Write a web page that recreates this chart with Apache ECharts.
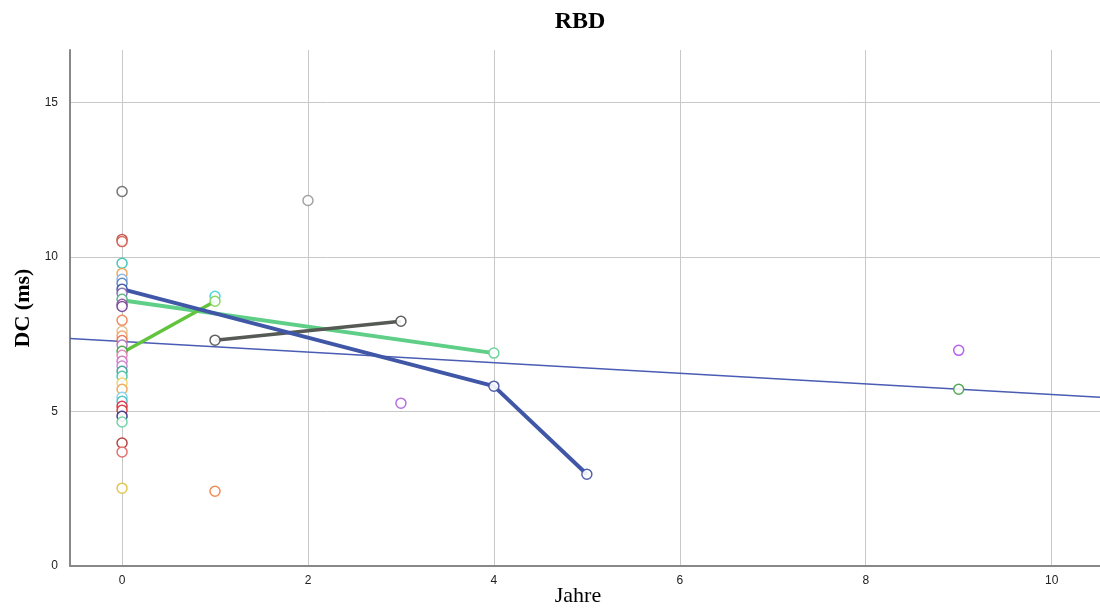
<!DOCTYPE html>
<html>
<head>
<meta charset="utf-8">
<title>RBD</title>
<script src="https://cdn.jsdelivr.net/npm/echarts@6/dist/echarts.min.js"></script>
<style>
	html, body { margin: 0; padding: 0; background: #fff; }
	#chart_1 { width: 1100px; height: 612px; }
</style>
</head>
<body>
<div id="chart_1"></div>
<script>
// Einzelpunkte (Jahre, DC in ms)
var pointX = [0, 0, 0, 0, 0, 0, 0, 0, 0, 0, 0, 0, 0, 0, 0, 0, 0, 0, 0, 0, 0, 0, 0, 0, 0, 0, 0, 0, 0, 0, 0, 0, 0, 0,
	1, 1, 1, 1, 2, 3, 3, 4, 4, 5, 9, 9];
var pointY = [12.12, 10.57, 10.5, 9.8, 9.47, 9.28, 9.15, 8.96, 8.83, 8.63, 8.47, 8.4, 7.95, 7.6, 7.44, 7.3, 7.15,
	6.95, 6.82, 6.63, 6.47, 6.3, 6.14, 5.92, 5.72, 5.46, 5.33, 5.17, 5.04, 4.85, 4.66, 3.98, 3.69, 2.52,
	2.42, 8.73, 8.57, 7.31, 11.83, 5.27, 7.92, 6.89, 5.82, 2.97, 6.98, 5.72];
var pointColors = ['#666666', '#c0504d', '#d05a4a', '#33c0b0', '#f0a050', '#80b0e0', '#5080c0', '#3050a0',
	'#8060b0', '#50b080', '#9050a0', '#704090', '#f08050', '#e0c090', '#f0a060', '#e07050', '#a070c0',
	'#40a040', '#e080b0', '#d070c0', '#c080d0', '#30a090', '#40c0a0', '#f0d060', '#f0a050', '#80d0f0',
	'#40c0c0', '#e02040', '#d03030', '#303080', '#60d0a0', '#b03030', '#e06060', '#e0c040',
	'#f08040', '#40d0e0', '#80d050', '#505050', '#999999', '#b060e0', '#505050', '#60d090', '#4050a0',
	'#4050a0', '#b050f0', '#40a040'];

// Verlaeufe einzelner Patienten
var blueX = [0, 4, 5];
var blueY = [8.96, 5.82, 2.97];
var greenX = [0, 4];
var greenY = [8.6, 6.89];
var limeX = [0, 1];
var limeY = [6.9, 8.57];
var grayX = [1, 3];
var grayY = [7.31, 7.92];

// Regressionsgerade
var fitIntercept = 7.27;
var fitSlope = -0.172;

// Achsen
var xMin = -0.56, xMax = 10.52;
var yMin = 0, yMax = 16.7;
var xTicks = [0, 2, 4, 6, 8, 10];
var yTicks = [5, 10, 15];

function pairs(xs, ys) {
	var t = [];
	for (var i = 0; i < xs.length; i++) {
		t.push([xs[i], ys[i]]);
	}
	return t;
}

function makeChart() {
	var myChart = echarts.init(document.getElementById('chart_1'));
	var serif = '"Liberation Serif", "DejaVu Serif", serif';
	var sans = '"Liberation Sans", Arial, sans-serif';

	var points = [];
	for (var i = 0; i < pointX.length; i++) {
		points.push({
			value: [pointX[i], pointY[i]],
			itemStyle: { borderColor: pointColors[i], color: '#fff' }
		});
	}

	// Gitterlinien nur an den beschrifteten Ticks
	var gridLines = [];
	xTicks.forEach(function (v) { gridLines.push({ xAxis: v }); });
	yTicks.forEach(function (v) { gridLines.push({ yAxis: v }); });

	function pathSeries(xs, ys, color, width) {
		return {
			type: 'line',
			data: pairs(xs, ys),
			showSymbol: false,
			silent: true,
			z: 2,
			lineStyle: { color: color, width: width }
		};
	}

	var option = {
		backgroundColor: '#fff',
		animation: false,
		title: {
			text: 'RBD',
			left: 575,
			textAlign: 'center',
			top: 5,
			textStyle: { fontFamily: serif, fontSize: 24, fontWeight: 'bold', color: '#000' }
		},
		grid: { left: 70, right: 0, top: 50, bottom: 46, outerBoundsMode: 'none', containLabel: false },
		xAxis: {
			type: 'value',
			min: xMin,
			max: xMax,
			splitNumber: 5,
			name: 'Jahre',
			nameLocation: 'middle',
			nameGap: 19,
			nameMoveOverlap: false,
			nameTextStyle: { fontFamily: serif, fontSize: 22, color: '#000', padding: [0, 14, 0, 0] },
			axisLine: { show: true, onZero: false, lineStyle: { color: '#888', width: 2 } },
			axisTick: { show: false },
			axisLabel: {
				showMinLabel: false,
				showMaxLabel: false,
				fontFamily: sans, fontSize: 12, color: '#222', margin: 9
			},
			splitLine: { show: false }
		},
		yAxis: {
			type: 'value',
			min: yMin,
			max: yMax,
			interval: 5,
			name: 'DC (ms)',
			nameLocation: 'middle',
			nameGap: 36,
			nameMoveOverlap: false,
			nameTextStyle: { fontFamily: serif, fontSize: 22, fontWeight: 'bold', color: '#000' },
			axisLine: { show: true, onZero: false, lineStyle: { color: '#888', width: 2 } },
			axisTick: { show: false },
			axisLabel: { showMaxLabel: false, fontFamily: sans, fontSize: 12, color: '#222', margin: 12 },
			splitLine: { show: false }
		},
		series: [
			{
				type: 'line',
				data: [[xMin, fitIntercept + fitSlope * xMin], [xMax, fitIntercept + fitSlope * xMax]],
				showSymbol: false,
				silent: true,
				z: 1,
				lineStyle: { color: '#4a5cb4', width: 1.5 },
				markLine: {
					silent: true,
					symbol: 'none',
					label: { show: false },
					lineStyle: { color: '#c8c8c8', width: 1, type: 'solid' },
					z: 0,
					data: gridLines
				}
			},
			pathSeries(greenX, greenY, '#5fcf87', 4),
			pathSeries(limeX, limeY, '#62c43c', 3.5),
			pathSeries(grayX, grayY, '#555a55', 3.5),
			pathSeries(blueX, blueY, '#4057a8', 4),
			{
				type: 'scatter',
				symbol: 'circle',
				symbolSize: 10,
				z: 3,
				itemStyle: { borderWidth: 1.5, opacity: 0.9 },
				data: points
			}
		]
	};
	myChart.setOption(option);
}
makeChart();
</script>
</body>
</html>
